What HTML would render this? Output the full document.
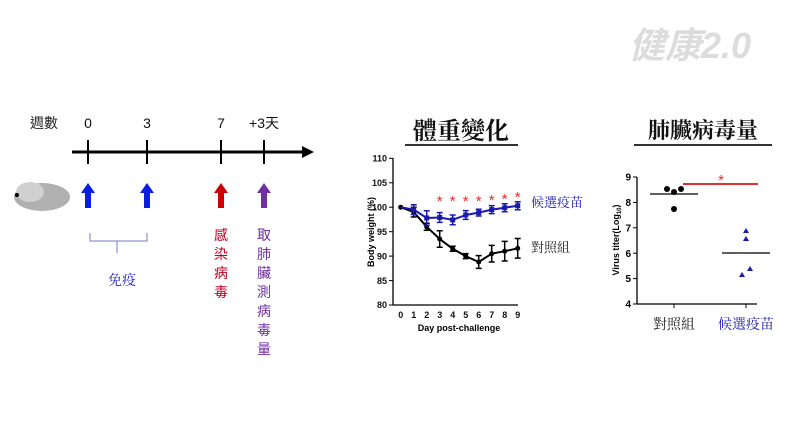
<!DOCTYPE html><html><head><meta charset="utf-8"><style>body{margin:0;background:#fff}svg{display:block}text{font-family:"Liberation Sans","Noto Sans CJK TC",sans-serif}.c{font-family:"Noto Serif CJK SC","Noto Sans CJK TC",serif}</style></head><body>
<svg width="792" height="445" viewBox="0 0 792 445">
<text x="690" y="58" font-size="36" font-style="italic" font-weight="bold" fill="#dcdcdc" text-anchor="middle">健康2.0</text>
<!-- timeline -->
<g class="c" font-size="14" fill="#222"><text x="30" y="128">週數</text></g>
<g font-size="14" fill="#111" text-anchor="middle"><text x="88" y="128">0</text><text x="147" y="128">3</text><text x="221" y="128">7</text><text x="264" y="128">+3天</text></g>
<line x1="72" y1="152" x2="304" y2="152" stroke="#000" stroke-width="3"/>
<polygon points="302,146 314,152 302,158" fill="#000"/>
<g stroke="#000" stroke-width="2"><line x1="88" y1="140" x2="88" y2="164"/><line x1="147" y1="140" x2="147" y2="164"/><line x1="221" y1="140" x2="221" y2="164"/><line x1="264" y1="140" x2="264" y2="164"/></g>
<g><path d="M85,208V193H81L88,183L95,193H91V208Z" fill="#0a1ee0"/><path d="M144,208V193H140L147,183L154,193H150V208Z" fill="#0a1ee0"/><path d="M218,208V193H214L221,183L228,193H224V208Z" fill="#c00"/><path d="M261,208V193H257L264,183L271,193H267V208Z" fill="#7030a0"/></g>
<ellipse cx="42" cy="197" rx="28" ry="14" fill="#b0b0b0"/><ellipse cx="30" cy="192" rx="14" ry="10" fill="#d0d0d0"/><circle cx="17" cy="195" r="2" fill="#000"/>
<path d="M90,233v8h27v12M147,233v8h-30" fill="none" stroke="#7a7ad0" stroke-width="1"/>
<text class="c" x="122" y="285" font-size="14" fill="#2020c0" text-anchor="middle">免疫</text>
<g class="c" font-size="14" fill="#c00020" text-anchor="middle"><text x="221" y="240">感</text><text x="221" y="259">染</text><text x="221" y="278">病</text><text x="221" y="297">毒</text></g>
<g class="c" font-size="14" fill="#7030a0" text-anchor="middle"><text x="264" y="240">取</text><text x="264" y="259">肺</text><text x="264" y="278">臟</text><text x="264" y="297">測</text><text x="264" y="316">病</text><text x="264" y="335">毒</text><text x="264" y="354">量</text></g>
<!-- chart1 -->
<text class="c" x="461" y="139" font-size="24" font-weight="bold" fill="#111" text-anchor="middle">體重變化</text>
<line x1="405" y1="145" x2="518" y2="145" stroke="#333" stroke-width="2"/>
<line x1="393" y1="158" x2="393" y2="305" stroke="#000" stroke-width="1.3"/>
<line x1="393" y1="305" x2="518" y2="305" stroke="#000" stroke-width="1.3"/>
<g stroke="#000"><line x1="389" y1="158.3" x2="393" y2="158.3"/><line x1="389" y1="182.8" x2="393" y2="182.8"/><line x1="389" y1="207.2" x2="393" y2="207.2"/><line x1="389" y1="231.7" x2="393" y2="231.7"/><line x1="389" y1="256.1" x2="393" y2="256.1"/><line x1="389" y1="280.6" x2="393" y2="280.6"/><line x1="389" y1="305" x2="393" y2="305"/></g>
<g font-size="9" font-weight="bold" text-anchor="end" fill="#111"><text x="387" y="161.5">110</text><text x="387" y="186">105</text><text x="387" y="210.5">100</text><text x="387" y="235">95</text><text x="387" y="259.5">90</text><text x="387" y="284">85</text><text x="387" y="308">80</text></g>
<g font-size="9" font-weight="bold" text-anchor="middle" fill="#111"><text x="400.7" y="318">0</text><text x="413.7" y="318">1</text><text x="426.7" y="318">2</text><text x="439.7" y="318">3</text><text x="452.7" y="318">4</text><text x="465.7" y="318">5</text><text x="478.7" y="318">6</text><text x="491.7" y="318">7</text><text x="504.7" y="318">8</text><text x="517.7" y="318">9</text></g>
<text x="459" y="331" font-size="9" font-weight="bold" text-anchor="middle">Day post-challenge</text>
<text transform="translate(374,232) rotate(-90)" font-size="9" font-weight="bold" text-anchor="middle">Body weight (%)</text>
<polyline points="400.7,207.2 413.7,212.1 426.7,226.8 439.7,239 452.7,248.8 465.7,256.1 478.7,262 491.7,253.7 504.7,251.2 517.7,248.3" fill="none" stroke="#000" stroke-width="2"/>
<g stroke="#000" stroke-width="1.5"><path d="M413.7,207.2v9.8M410.7,207.2h6M410.7,217h6M426.7,223.3v7M423.7,223.3h6M423.7,230.3h6M439.7,230.7v16.6M436.7,230.7h6M436.7,247.3h6M452.7,246.3v5M449.7,246.3h6M449.7,251.3h6M465.7,253.6v5M462.7,253.6h6M462.7,258.6h6M478.7,255.6v12.8M475.7,255.6h6M475.7,268.4h6M491.7,245.4v16.6M488.7,245.4h6M488.7,262h6M504.7,241.4v19.6M501.7,241.4h6M501.7,261h6M517.7,238.5v19.6M514.7,238.5h6M514.7,258.1h6"/></g>
<g fill="#000"><circle cx="400.7" cy="207.2" r="2.5"/><circle cx="413.7" cy="212.1" r="2.5"/><circle cx="426.7" cy="226.8" r="2.5"/><circle cx="439.7" cy="239" r="2.5"/><circle cx="452.7" cy="248.8" r="2.5"/><circle cx="465.7" cy="256.1" r="2.5"/><circle cx="478.7" cy="262" r="2.5"/><circle cx="491.7" cy="253.7" r="2.5"/><circle cx="504.7" cy="251.2" r="2.5"/><circle cx="517.7" cy="248.3" r="2.5"/></g>
<polyline points="400.7,207.2 413.7,209.6 426.7,218 439.7,217.5 452.7,219.9 465.7,215 478.7,212.6 491.7,209.6 504.7,207.7 517.7,205.7" fill="none" stroke="#1a1ab0" stroke-width="2"/>
<g stroke="#1a1ab0" stroke-width="1.5"><path d="M413.7,204.7v9.8M410.7,204.7h6M410.7,214.5h6M426.7,210.7v14.6M423.7,210.7h6M423.7,225.3h6M439.7,212.6v9.8M436.7,212.6h6M436.7,222.4h6M452.7,215v9.8M449.7,215h6M449.7,224.8h6M465.7,210.6v8.8M462.7,210.6h6M462.7,219.4h6M478.7,209.2v6.8M475.7,209.2h6M475.7,216h6M491.7,205.6v8M488.7,205.6h6M488.7,213.6h6M504.7,203.7v8M501.7,203.7h6M501.7,211.7h6M517.7,201.7v8M514.7,201.7h6M514.7,209.7h6"/></g>
<g fill="#1a1ab0"><rect x="411.2" y="207.1" width="5" height="5"/><rect x="424.2" y="215.5" width="5" height="5"/><rect x="437.2" y="215" width="5" height="5"/><rect x="450.2" y="217.4" width="5" height="5"/><rect x="463.2" y="212.5" width="5" height="5"/><rect x="476.2" y="210.1" width="5" height="5"/><rect x="489.2" y="207.1" width="5" height="5"/><rect x="502.2" y="205.2" width="5" height="5"/><rect x="515.2" y="203.2" width="5" height="5"/></g>
<g fill="#e03030" font-size="15" text-anchor="middle"><text x="439.7" y="206">*</text><text x="452.7" y="206">*</text><text x="465.7" y="206">*</text><text x="478.7" y="206">*</text><text x="491.7" y="205">*</text><text x="504.7" y="204">*</text><text x="517.7" y="202">*</text></g>
<text class="c" x="531" y="207" font-size="13" fill="#1a1ab0">候選疫苗</text>
<text class="c" x="531" y="252" font-size="13" fill="#222">對照組</text>
<!-- chart2 -->
<text class="c" x="703" y="138" font-size="22" font-weight="bold" fill="#111" text-anchor="middle">肺臟病毒量</text>
<line x1="634" y1="145" x2="772" y2="145" stroke="#333" stroke-width="2"/>
<line x1="637" y1="177" x2="637" y2="304" stroke="#000" stroke-width="1.3"/>
<line x1="637" y1="304" x2="757" y2="304" stroke="#000" stroke-width="1.3"/>
<g stroke="#000"><line x1="633" y1="177" x2="637" y2="177"/><line x1="633" y1="202.4" x2="637" y2="202.4"/><line x1="633" y1="227.8" x2="637" y2="227.8"/><line x1="633" y1="253.2" x2="637" y2="253.2"/><line x1="633" y1="278.6" x2="637" y2="278.6"/><line x1="633" y1="304" x2="637" y2="304"/><line x1="674" y1="304" x2="674" y2="308"/><line x1="746" y1="304" x2="746" y2="308"/></g>
<g font-size="10" font-weight="bold" text-anchor="end"><text x="631" y="180.5">9</text><text x="631" y="206">8</text><text x="631" y="231.5">7</text><text x="631" y="257">6</text><text x="631" y="282">5</text><text x="631" y="307.5">4</text></g>
<text transform="translate(619,240) rotate(-90)" font-size="9" font-weight="bold" text-anchor="middle">Virus titer(Log<tspan font-size="6" dy="2">10</tspan><tspan dy="-2">)</tspan></text>
<line x1="650" y1="194" x2="698" y2="194" stroke="#000" stroke-width="1.3"/>
<g fill="#000"><circle cx="667" cy="189" r="3"/><circle cx="674" cy="192" r="3"/><circle cx="681" cy="189" r="3"/><circle cx="674" cy="209" r="3"/></g>
<line x1="683" y1="184" x2="758" y2="184" stroke="#e03030" stroke-width="2"/>
<text x="721" y="185" font-size="15" fill="#e03030" text-anchor="middle">*</text>
<line x1="722" y1="253" x2="770" y2="253" stroke="#000" stroke-width="1.3"/>
<g fill="#1a1ab0"><path d="M746,228l3,5h-6z"/><path d="M746,236l3,5h-6z"/><path d="M750,266l3,5h-6z"/><path d="M742,272l3,5h-6z"/></g>
<text class="c" x="674" y="329" font-size="14" fill="#222" text-anchor="middle">對照組</text>
<text class="c" x="746" y="329" font-size="14" fill="#1a1ab0" text-anchor="middle">候選疫苗</text>
</svg></body></html>
